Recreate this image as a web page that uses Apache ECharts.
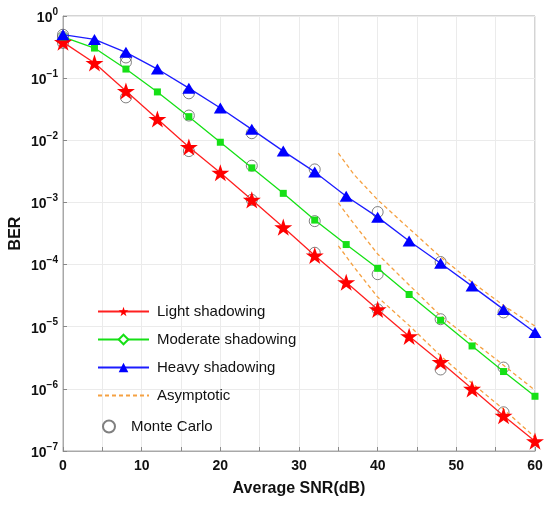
<!DOCTYPE html>
<html>
<head>
<meta charset="utf-8">
<script src="https://cdn.jsdelivr.net/npm/echarts@6.0.0/dist/echarts.min.js"></script>
<style>
  html, body { margin: 0; padding: 0; background: #fff; }
  #main { width: 550px; height: 505px; }
</style>
</head>
<body>
<div id="main"></div>
<script>
var chartDom = document.getElementById('main');
var myChart = echarts.init(chartDom);
var option;

// theory curves, markers every 4 dB
const snrTheory = [0, 4, 8, 12, 16, 20, 24, 28, 32, 36, 40, 44, 48, 52, 56, 60];
const berLight = [0.38, 0.175, 0.062, 0.022, 0.0078, 0.003, 0.0011, 4.0e-4, 1.4e-4, 5.2e-5, 1.9e-5, 7.0e-6, 2.7e-6, 1.0e-6, 3.7e-7, 1.44e-7];
const berModerate = [0.46, 0.305, 0.14, 0.06, 0.024, 0.0093, 0.0036, 1.4e-3, 5.2e-4, 2.1e-4, 8.7e-5, 3.3e-5, 1.27e-5, 4.9e-6, 1.9e-6, 7.6e-7];
const berHeavy = [0.5, 0.42, 0.26, 0.14, 0.069, 0.033, 0.015, 6.7e-3, 3.1e-3, 1.26e-3, 5.8e-4, 2.4e-4, 1.05e-4, 4.5e-5, 1.9e-5, 8.1e-6];

// asymptotic curves (high SNR)
const snrAsym = [35, 37, 40, 44, 48, 52, 56, 60];
const asymLight = [2.0e-4, 9.1e-5, 3.0e-5, 1.05e-5, 3.4e-6, 1.23e-6, 4.7e-7, 1.66e-7];
const asymModerate = [9.8e-4, 4.5e-4, 1.48e-4, 4.7e-5, 1.5e-5, 6.0e-6, 2.4e-6, 9.5e-7];
const asymHeavy = [6.2e-3, 2.8e-3, 1.1e-3, 3.8e-4, 1.32e-4, 5.2e-5, 2.2e-5, 1.02e-5];

// Monte Carlo simulation points
const snrMC = [0, 8, 16, 24, 32, 40, 48, 56];
const mcLight = [0.37, 0.049, 0.0067, 0.0011, 1.55e-4, 1.9e-5, 2.05e-6, 4.2e-7];
const mcModerate = [0.46, 0.18, 0.025, 0.0039, 5.0e-4, 7.0e-5, 1.32e-5, 2.2e-6];
const mcHeavy = [0.5, 0.215, 0.057, 0.013, 3.4e-3, 7.0e-4, 1.1e-4, 1.7e-5];

const font = 'Liberation Sans, Arial, sans-serif';
const starPath = 'path://M50 0 L61.23 34.55 L97.55 34.55 L68.17 55.9 L79.39 90.45 L50 69.1 L20.61 90.45 L31.83 55.9 L2.45 34.55 L38.77 34.55 Z';

function pairs(xs, ys) {
  return xs.map(function (x, i) { return [x, ys[i]]; });
}

const mcData = [].concat(pairs(snrMC, mcLight), pairs(snrMC, mcModerate), pairs(snrMC, mcHeavy));

function asymSeries(ys) {
  return {
    name: 'Asymptotic',
    type: 'line',
    data: pairs(snrAsym, ys),
    symbol: 'none',
    color: '#f5a142',
    lineStyle: { color: '#f5a142', width: 1.3, type: [4, 3] },
    z: 3
  };
}

option = {
  animation: false,
  backgroundColor: '#fff',
  grid: {
    left: 63,
    right: 15,
    top: 16,
    bottom: 54,
    containLabel: false,
    outerBoundsMode: 'none',
    show: true,
    borderColor: '#a8a8a8',
    borderWidth: 1
  },
  legend: [
    {
      orient: 'vertical',
      left: 97,
      top: 304,
      padding: 0,
      itemWidth: 51,
      itemHeight: 12,
      itemGap: 13,
      selectedMode: false,
      data: [
        'Light shadowing',
        'Moderate shadowing',
        'Heavy shadowing',
        { name: 'Asymptotic', itemStyle: { color: 'transparent', borderColor: 'transparent', borderWidth: 0, opacity: 0 } }
      ],
      lineStyle: { width: 2 },
      textStyle: { fontFamily: font, fontSize: 15, color: '#111', padding: [0, 0, 0, 3] }
    },
    {
      orient: 'vertical',
      left: 102,
      top: 419,
      padding: 0,
      itemWidth: 34,
      itemHeight: 12,
      selectedMode: false,
      data: ['Monte Carlo'],
      textStyle: { fontFamily: font, fontSize: 15, color: '#111' }
    }
  ],
  xAxis: {
    type: 'value',
    min: 0,
    max: 60,
    interval: 5,
    name: 'Average SNR(dB)',
    nameLocation: 'middle',
    nameGap: 30,
    nameMoveOverlap: false,
    nameTextStyle: { fontFamily: font, fontSize: 16, fontWeight: 'bold', color: '#111' },
    axisLine: { lineStyle: { color: '#a8a8a8' } },
    axisTick: { inside: true, length: 4, lineStyle: { color: '#888' } },
    axisLabel: {
      fontFamily: font,
      fontSize: 14,
      fontWeight: 'bold',
      color: '#111',
      margin: 8,
      formatter: function (v) { return v % 10 === 0 ? String(v) : ''; }
    },
    splitLine: { show: true, lineStyle: { color: '#ebebeb' } }
  },
  yAxis: {
    type: 'log',
    logBase: 10,
    min: 1e-7,
    max: 1,
    name: 'BER',
    nameLocation: 'middle',
    nameGap: 39,
    nameMoveOverlap: false,
    nameTextStyle: { fontFamily: font, fontSize: 16, fontWeight: 'bold', color: '#111' },
    axisLine: { lineStyle: { color: '#a8a8a8' } },
    axisTick: { inside: true, length: 4, lineStyle: { color: '#888' } },
    axisLabel: {
      margin: 5,
      formatter: function (v) {
        const e = Math.round(Math.log10(v));
        return '{b|10}{s|' + (e === 0 ? '0' : '\u2212' + (-e)) + '}';
      },
      rich: {
        b: { fontFamily: font, fontSize: 14, fontWeight: 'bold', color: '#111', lineHeight: 18, verticalAlign: 'bottom' },
        s: { fontFamily: font, fontSize: 10, fontWeight: 'bold', color: '#111', lineHeight: 10, verticalAlign: 'top' }
      }
    },
    splitLine: { show: true, lineStyle: { color: '#ebebeb' } }
  },
  series: [
    // legend-only entry: the legend shows a hollow diamond for this curve
    {
      name: 'Moderate shadowing',
      type: 'line',
      data: [],
      symbol: 'emptyDiamond',
      color: '#16e016',
      lineStyle: { color: '#16e016' }
    },
    {
      name: 'Monte Carlo',
      type: 'scatter',
      data: mcData,
      symbol: 'circle',
      symbolSize: 11,
      itemStyle: { color: 'rgba(255,255,255,0)', borderColor: '#606060', borderWidth: 1 },
      z: 2
    },
    asymSeries(asymLight),
    asymSeries(asymModerate),
    asymSeries(asymHeavy),
    {
      name: 'Light shadowing',
      type: 'line',
      data: pairs(snrTheory, berLight),
      symbol: starPath,
      symbolSize: 18,
      symbolKeepAspect: true,
      showAllSymbol: true,
      color: '#ff0000',
      itemStyle: { color: '#ff0000' },
      lineStyle: { color: '#ff2020', width: 1.3 },
      z: 4
    },
    {
      name: 'Moderate shadowing',
      type: 'line',
      data: pairs(snrTheory, berModerate),
      symbol: 'rect',
      symbolSize: 7,
      showAllSymbol: true,
      color: '#16e016',
      itemStyle: { color: '#16e016' },
      lineStyle: { color: '#16e016', width: 1.3 },
      z: 4
    },
    {
      name: 'Heavy shadowing',
      type: 'line',
      data: pairs(snrTheory, berHeavy),
      symbol: 'triangle',
      symbolSize: [13, 11],
      showAllSymbol: true,
      color: '#0000ff',
      itemStyle: { color: '#0000ff' },
      lineStyle: { color: '#1c1cff', width: 1.3 },
      z: 4
    }
  ]
};

option && myChart.setOption(option);
</script>
</body>
</html>
